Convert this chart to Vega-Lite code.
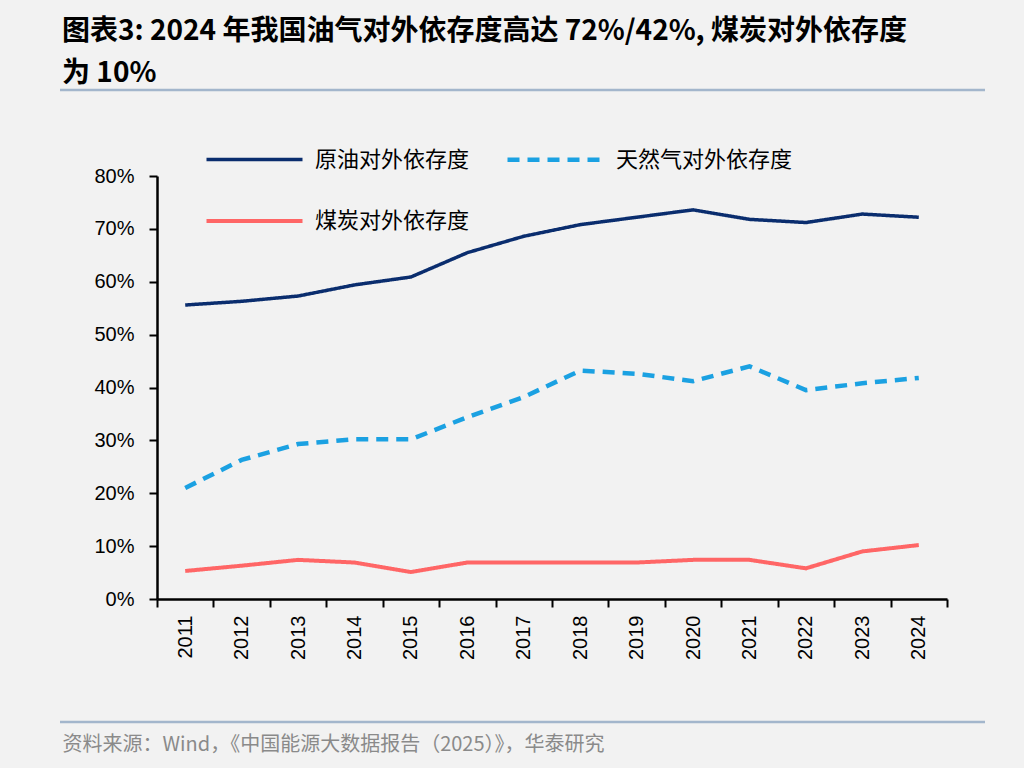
{
  "$schema": "https://vega.github.io/schema/vega-lite/v6.json",
  "width": 790,
  "height": 423,
  "autosize": "none",
  "padding": {"left": 157, "top": 176, "right": 77, "bottom": 169},
  "background": "#f2f2f2",
  "config": {"view": {"stroke": null}, "font": "Liberation Sans"},
  "title": {
    "text": ["图表3:  2024 年我国油气对外依存度高达 72%/42%,  煤炭对外依存度", "为  10%"],
    "anchor": "start",
    "frame": "group",
    "dx": -95,
    "offset": -27,
    "baseline": "bottom",
    "lineHeight": 42,
    "font": "Noto Sans CJK SC",
    "fontSize": 28,
    "fontWeight": "bold",
    "color": "#000000"
  },
  "resolve": {"scale": {"y": "independent", "x": "independent"}},
  "layer": [
    {
      "data": {"values": [{"pos": "top"}, {"pos": "bottom"}]},
      "mark": {"type": "rule", "color": "#a3b6cc", "strokeWidth": 2.5},
      "encoding": {
        "x": {"value": -97},
        "x2": {"value": 828},
        "y": {"field": "pos", "type": "nominal", "scale": {"type": "point", "padding": 0, "domain": ["top", "bottom"], "range": [-86, 546]}, "axis": null}
      }
    },
    {
      "data": {
        "values": [
          {"year": "2011", "series": "原油对外依存度", "value": 0.556},
          {"year": "2012", "series": "原油对外依存度", "value": 0.563},
          {"year": "2013", "series": "原油对外依存度", "value": 0.573},
          {"year": "2014", "series": "原油对外依存度", "value": 0.594},
          {"year": "2015", "series": "原油对外依存度", "value": 0.609},
          {"year": "2016", "series": "原油对外依存度", "value": 0.655},
          {"year": "2017", "series": "原油对外依存度", "value": 0.686},
          {"year": "2018", "series": "原油对外依存度", "value": 0.708},
          {"year": "2019", "series": "原油对外依存度", "value": 0.722},
          {"year": "2020", "series": "原油对外依存度", "value": 0.736},
          {"year": "2021", "series": "原油对外依存度", "value": 0.718},
          {"year": "2022", "series": "原油对外依存度", "value": 0.712},
          {"year": "2023", "series": "原油对外依存度", "value": 0.728},
          {"year": "2024", "series": "原油对外依存度", "value": 0.722},
          {"year": "2011", "series": "天然气对外依存度", "value": 0.210},
          {"year": "2012", "series": "天然气对外依存度", "value": 0.263},
          {"year": "2013", "series": "天然气对外依存度", "value": 0.293},
          {"year": "2014", "series": "天然气对外依存度", "value": 0.302},
          {"year": "2015", "series": "天然气对外依存度", "value": 0.302},
          {"year": "2016", "series": "天然气对外依存度", "value": 0.344},
          {"year": "2017", "series": "天然气对外依存度", "value": 0.382},
          {"year": "2018", "series": "天然气对外依存度", "value": 0.432},
          {"year": "2019", "series": "天然气对外依存度", "value": 0.426},
          {"year": "2020", "series": "天然气对外依存度", "value": 0.412},
          {"year": "2021", "series": "天然气对外依存度", "value": 0.440},
          {"year": "2022", "series": "天然气对外依存度", "value": 0.395},
          {"year": "2023", "series": "天然气对外依存度", "value": 0.408},
          {"year": "2024", "series": "天然气对外依存度", "value": 0.418},
          {"year": "2011", "series": "煤炭对外依存度", "value": 0.053},
          {"year": "2012", "series": "煤炭对外依存度", "value": 0.063},
          {"year": "2013", "series": "煤炭对外依存度", "value": 0.074},
          {"year": "2014", "series": "煤炭对外依存度", "value": 0.069},
          {"year": "2015", "series": "煤炭对外依存度", "value": 0.051},
          {"year": "2016", "series": "煤炭对外依存度", "value": 0.069},
          {"year": "2017", "series": "煤炭对外依存度", "value": 0.069},
          {"year": "2018", "series": "煤炭对外依存度", "value": 0.069},
          {"year": "2019", "series": "煤炭对外依存度", "value": 0.069},
          {"year": "2020", "series": "煤炭对外依存度", "value": 0.074},
          {"year": "2021", "series": "煤炭对外依存度", "value": 0.074},
          {"year": "2022", "series": "煤炭对外依存度", "value": 0.058},
          {"year": "2023", "series": "煤炭对外依存度", "value": 0.090},
          {"year": "2024", "series": "煤炭对外依存度", "value": 0.102}
        ]
      },
      "mark": {"type": "line", "strokeCap": "butt"},
      "encoding": {
        "x": {
          "field": "year",
          "type": "ordinal",
          "scale": {"paddingInner": 0, "paddingOuter": 0},
          "axis": {
            "title": "资料来源：Wind，《中国能源大数据报告（2025）》，华泰研究",
            "titleFont": "Noto Sans CJK SC",
            "titleFontSize": 20,
            "titleFontWeight": "normal",
            "titleColor": "#8a8a8a",
            "titleAnchor": "start",
            "titleAlign": "left",
            "titleBaseline": "alphabetic",
            "titleX": -95,
            "titleY": 151,
            "labelAngle": -90,
            "labelAlign": "right",
            "labelBaseline": "middle",
            "labelFontSize": 20,
            "labelColor": "#000000",
            "labelPadding": 8,
            "tickBand": "extent",
            "tickSize": 8,
            "tickColor": "#000000",
            "tickWidth": 2,
            "domainColor": "#000000",
            "domainWidth": 2.5
          }
        },
        "y": {
          "field": "value",
          "type": "quantitative",
          "scale": {"domain": [0, 0.8]},
          "axis": {
            "title": null,
            "format": ".0%",
            "values": [0, 0.1, 0.2, 0.3, 0.4, 0.5, 0.6, 0.7, 0.8],
            "labelOverlap": false,
            "grid": false,
            "labelFontSize": 20,
            "labelColor": "#000000",
            "labelPadding": 15,
            "tickSize": 8,
            "tickColor": "#000000",
            "tickWidth": 2,
            "domainColor": "#000000",
            "domainWidth": 2.5
          }
        },
        "color": {
          "field": "series",
          "type": "nominal",
          "title": null,
          "scale": {
            "domain": ["原油对外依存度", "煤炭对外依存度", "天然气对外依存度"],
            "range": ["#0a2d6e", "#ff6666", "#1ba1e2"]
          },
          "legend": {
            "orient": "none",
            "legendX": 47,
            "legendY": -67,
            "columns": 2,
            "columnPadding": 28,
            "rowPadding": -47,
            "symbolType": "stroke",
            "symbolSize": 9216,
            "symbolStrokeWidth": 4,
            "symbolOffset": 0,
            "labelOffset": 10,
            "labelFont": "Noto Sans CJK SC",
            "labelFontSize": 22,
            "labelColor": "#000000",
            "labelLimit": 400
          }
        },
        "strokeDash": {
          "field": "series",
          "type": "nominal",
          "title": null,
          "scale": {
            "domain": ["原油对外依存度", "煤炭对外依存度", "天然气对外依存度"],
            "range": [[1, 0], [1, 0], [12, 8]]
          }
        },
        "strokeWidth": {
          "field": "series",
          "type": "nominal",
          "scale": {
            "domain": ["原油对外依存度", "煤炭对外依存度", "天然气对外依存度"],
            "range": [3.5, 4.5, 3.5]
          },
          "legend": null
        }
      }
    }
  ]
}
